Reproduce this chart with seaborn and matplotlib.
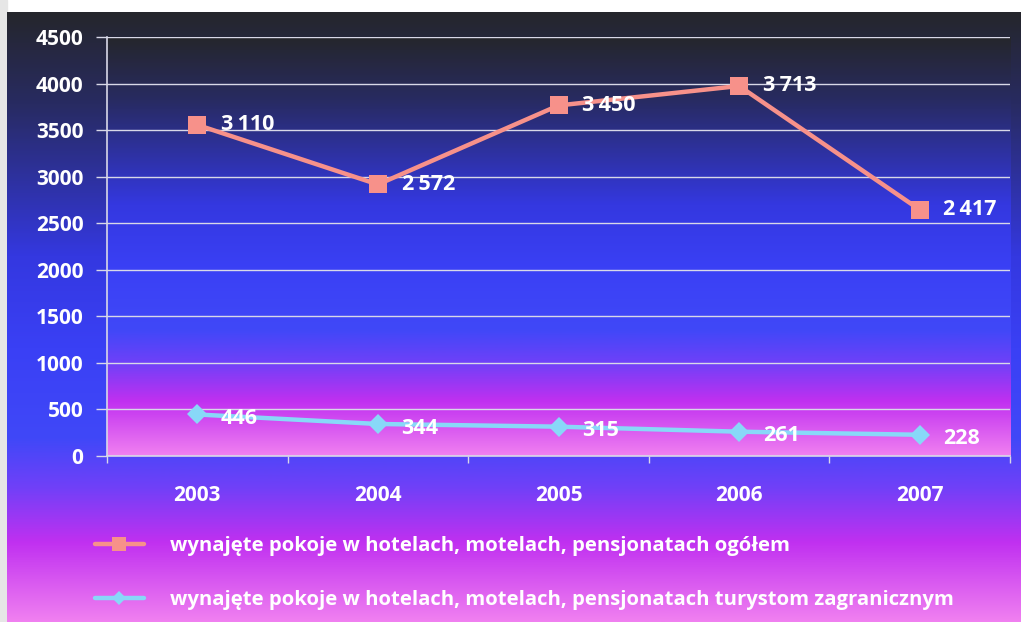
import numpy as np
import pandas as pd
import seaborn as sns
import matplotlib.pyplot as plt
from matplotlib.colors import LinearSegmentedColormap
from matplotlib.patches import Rectangle

# dane z wykresu (wykres skumulowany: linia "ogółem" leży na sumie obu serii)
lata = ['2003', '2004', '2005', '2006', '2007']
ogolem = [3110, 2572, 3450, 3713, 2417]
zagraniczni = [446, 344, 315, 261, 228]
nazwa_ogolem = 'wynajęte pokoje w hotelach, motelach, pensjonatach ogółem'
nazwa_zagr = 'wynajęte pokoje w hotelach, motelach, pensjonatach turystom zagranicznym'
y_ticks = [0, 500, 1000, 1500, 2000, 2500, 3000, 3500, 4000, 4500]

kolor_ogolem = '#f7918a'
kolor_zagr = '#88d8f8'

sns.set_style('white')
plt.rcParams['font.family'] = ['Open Sans', 'DejaVu Sans']

df = pd.DataFrame({
    'rok': lata * 2,
    'wartosc': list(np.cumsum([zagraniczni, ogolem], axis=0)[1]) + zagraniczni,
    'etykieta': ogolem + zagraniczni,
    'seria': [nazwa_ogolem] * 5 + [nazwa_zagr] * 5,
})

tlo = LinearSegmentedColormap.from_list('tlo', [
    (0.0, '#25262c'), (0.15, '#282b62'), (0.4, '#3438e0'), (0.55, '#3a40f5'),
    (0.7, '#4048f8'), (0.78, '#7040f8'), (0.87, '#c030f0'), (1.0, '#f080f0')])
grad = np.linspace(0, 1, 256).reshape(-1, 1)

W, H = 1021, 622
fig = plt.figure(figsize=(W / 100, H / 100), dpi=100, facecolor='white')
fig.patches.append(Rectangle((0, 0), 7 / W, 1, transform=fig.transFigure,
                             color='#e6e6e6', zorder=-20))

# tło całego wykresu
bg = fig.add_axes([7 / W, 0, 1 - 7 / W, (H - 12) / H], zorder=-10)
bg.imshow(grad, aspect='auto', cmap=tlo, extent=[0, 1, 1, 0])
bg.set_axis_off()

ax = fig.add_axes([107 / W, 1 - 456 / H, (1010 - 107) / W, (456 - 37) / H])
ax.imshow(grad, aspect='auto', cmap=tlo, extent=[0, 1, 0, 1],
          transform=ax.transAxes, zorder=0)

sns.lineplot(data=df, x='rok', y='wartosc', hue='seria', style='seria',
             palette={nazwa_ogolem: kolor_ogolem, nazwa_zagr: kolor_zagr},
             markers={nazwa_ogolem: 's', nazwa_zagr: 'D'}, dashes=False,
             linewidth=3.2, markersize=12, markeredgewidth=0, ax=ax, zorder=3)

for line, ms in zip(ax.get_lines(), [13, 10]):
    line.set_markersize(ms)

# etykiety danych
for _, r in df.iterrows():
    tekst = f'{r.etykieta:,}'.replace(',', '\u2009')
    dy = -3 if r.seria == nazwa_zagr else 0
    ax.annotate(tekst, (r.rok, r.wartosc), xytext=(17, dy), textcoords='offset points',
                color='white', fontsize=15.5, fontweight='bold', va='center', ha='left',
                zorder=4)

ax.set_xlim(-0.5, 4.5)
ax.set_ylim(0, 4500)
ax.set_yticks(y_ticks)
ax.set_xticks(np.arange(-0.5, 5, 1), minor=False)
ax.set_xticklabels([])
ax.set_xticks(range(5), minor=True)
ax.set_xticklabels(lata, minor=True)
ax.tick_params(axis='x', which='major', direction='out', length=5, width=1,
               color='#d8d8e8', bottom=True)
ax.tick_params(axis='x', which='minor', length=0, pad=21, labelsize=15,
               labelcolor='white')
ax.tick_params(axis='y', direction='out', length=8, width=1, color='#d8d8e8',
               labelsize=15, labelcolor='white', left=True, pad=9)
for lab in ax.get_yticklabels() + ax.get_xticklabels(minor=True):
    lab.set_fontweight('bold')

ax.grid(axis='y', color='#d8d8e8', linewidth=1)
ax.set_axisbelow(True)
for s in ['top', 'right']:
    ax.spines[s].set_visible(False)
for s in ['left', 'bottom']:
    ax.spines[s].set_color('#d8d8e8')
    ax.spines[s].set_linewidth(1.2)
ax.set_xlabel('')
ax.set_ylabel('')

handles, labels = ax.get_legend_handles_labels()
ax.get_legend().remove()
leg = fig.legend(handles, labels, loc='center left', bbox_to_anchor=(95 / W, 1 - 573 / H),
                 frameon=False, fontsize=14.6, handlelength=2.4, handletextpad=1.3,
                 labelspacing=1.7, borderpad=0, borderaxespad=0)
for t in leg.get_texts():
    t.set_color('white')
    t.set_fontweight('bold')
for h, ms in zip(leg.legend_handles, [10, 7]):
    h.set_markersize(ms)

fig.savefig('out.png', dpi=100)
